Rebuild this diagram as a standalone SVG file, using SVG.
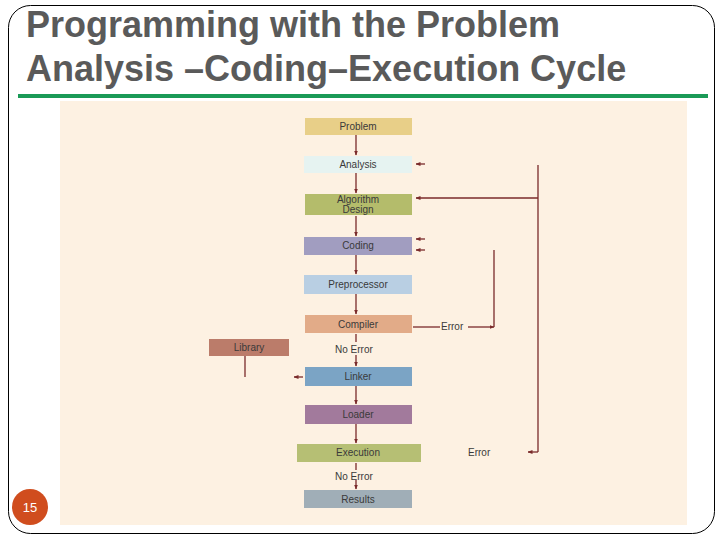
<svg xmlns="http://www.w3.org/2000/svg" width="720" height="540" viewBox="0 0 720 540">
<defs>
<marker id="ah" viewBox="0 0 10 10" refX="9" refY="5" markerWidth="5" markerHeight="5" orient="auto" markerUnits="userSpaceOnUse">
<path d="M0,1 L10,5 L0,9 z" fill="#7a2a2a"/>
</marker>
<style>
.t{font-family:"Liberation Sans",Arial,sans-serif;font-size:10px;fill:#3a3a3a;text-anchor:middle}
.l{font-family:"Liberation Sans",Arial,sans-serif;font-size:10px;fill:#3a3a3a}
.c{stroke:#7a2a2a;stroke-width:1.3;fill:none}
.a{marker-end:url(#ah)}
.title{font-family:"Liberation Sans",Arial,sans-serif;font-size:36px;font-weight:bold;fill:#5a5a5a}
</style>
</defs>
<rect x="0" y="0" width="720" height="540" fill="#ffffff"/>
<rect x="8.5" y="5.5" width="706" height="528" rx="22" fill="none" stroke="#000" stroke-width="1"/>
<text class="title" x="26" y="37">Programming with the Problem</text>
<text class="title" x="26" y="81">Analysis –Coding–Execution Cycle</text>
<rect x="18" y="94" width="690" height="4" fill="#1a9a57"/>
<rect x="60" y="101" width="627" height="424" fill="#fdf1e2"/>

<g id="problem"><rect x="305" y="118" width="107" height="17" fill="#e8cf88"/><text class="t" x="358" y="130">Problem</text></g>
<g id="analysis"><rect x="304" y="156" width="108" height="17" fill="#e6f3f1"/><text class="t" x="358" y="168">Analysis</text></g>
<g id="algorithm"><rect x="305" y="194" width="107" height="21" fill="#b4bc6b"/><text class="t" x="358" y="203">Algorithm</text><text class="t" x="358" y="213">Design</text></g>
<g id="coding"><rect x="304" y="237" width="108" height="18" fill="#a19dc0"/><text class="t" x="358" y="249">Coding</text></g>
<g id="preprocessor"><rect x="304" y="275" width="108" height="19" fill="#b9cfe3"/><text class="t" x="358" y="288">Preprocessor</text></g>
<g id="compiler"><rect x="305" y="315" width="107" height="18" fill="#e2ab88"/><text class="t" x="358" y="328">Compiler</text></g>
<g id="library"><rect x="209" y="339" width="80" height="17" fill="#bb7c6a"/><text class="t" x="249" y="351">Library</text></g>
<g id="linker"><rect x="305" y="367" width="107" height="19" fill="#7ba4c5"/><text class="t" x="358" y="380">Linker</text></g>
<g id="loader"><rect x="305" y="405" width="107" height="19" fill="#a27a9c"/><text class="t" x="358" y="418">Loader</text></g>
<g id="execution"><rect x="297" y="444" width="124" height="18" fill="#b6bf74"/><text class="t" x="358" y="456">Execution</text></g>
<g id="results"><rect x="304" y="490" width="108" height="18" fill="#a0aeb7"/><text class="t" x="358" y="503">Results</text></g>

<g id="connectors">
<line class="c a" x1="356" y1="135" x2="356" y2="155"/>
<line class="c a" x1="356" y1="173" x2="356" y2="193"/>
<line class="c a" x1="356" y1="216" x2="356" y2="236"/>
<line class="c a" x1="356" y1="255" x2="356" y2="274"/>
<line class="c a" x1="356" y1="294" x2="356" y2="314"/>
<line class="c" x1="356" y1="334" x2="356" y2="342"/>
<line class="c a" x1="356" y1="355" x2="356" y2="366"/>
<line class="c a" x1="356" y1="386" x2="356" y2="404"/>
<line class="c a" x1="356" y1="424" x2="356" y2="443"/>
<line class="c" x1="356" y1="463" x2="356" y2="470"/>
<line class="c a" x1="356" y1="480" x2="356" y2="489"/>
<line class="c" x1="538" y1="165" x2="538" y2="452"/>
<line class="c a" x1="538" y1="198" x2="416" y2="198"/>
<line class="c a" x1="538" y1="452" x2="528" y2="452"/>
<line class="c a" x1="425" y1="164" x2="416" y2="164"/>
<line class="c a" x1="425" y1="239" x2="416" y2="239"/>
<line class="c a" x1="425" y1="250" x2="416" y2="250"/>
<line class="c" x1="494" y1="250" x2="494" y2="327"/>
<line class="c" x1="413" y1="327" x2="440" y2="327"/>
<line class="c a" x1="468" y1="327" x2="494" y2="327"/>
<line class="c" x1="245" y1="356" x2="245" y2="377"/>
<line class="c a" x1="303" y1="377" x2="294" y2="377"/>
<text class="l" x="335" y="353">No Error</text>
<text class="l" x="441" y="330">Error</text>
<text class="l" x="335" y="480">No Error</text>
<text class="l" x="468" y="456">Error</text>
</g>

<circle cx="30" cy="507" r="18" fill="#d04d1e"/>
<text x="30" y="512" font-family="Liberation Sans,Arial,sans-serif" font-size="13" fill="#fff" text-anchor="middle">15</text>
</svg>
